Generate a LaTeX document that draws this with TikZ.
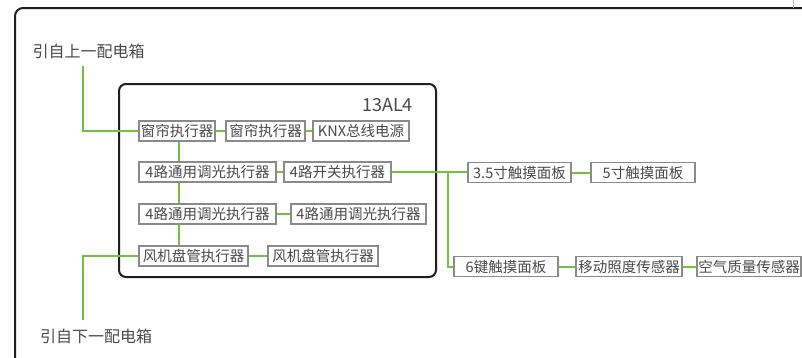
\documentclass[tikz,border=0pt]{standalone}
\usepackage{fontspec}
\setmainfont{Noto Sans CJK SC}
\definecolor{wire}{HTML}{72C23C}
\definecolor{boxline}{HTML}{8A8A8A}
\definecolor{txt}{HTML}{4A4A4A}
\tikzset{
  dev/.style={draw=boxline, line width=1.3pt, fill=white, text=txt,
    minimum height=20pt, inner sep=0pt, font=\fontsize{14.5}{14.5}\selectfont},
  wireline/.style={draw=wire, line width=2pt},
  frame/.style={draw=black!88, line width=2pt, rounded corners=8pt},
  lbl/.style={text=txt, font=\fontsize{16}{16}\selectfont, inner sep=0pt}
}
\begin{document}
\begin{tikzpicture}[x=1pt,y=-1pt]
\useasboundingbox (0,0) rectangle (802,357);
\clip (0,0) rectangle (802,357);
\fill[white] (0,0) rectangle (802,357);
% outer frame
\draw[frame] (15,380) -- (15,8) -- (830,8);
\draw[boxline!60, line width=1pt] (793,0) -- (793,8);
% inner cabinet
\draw[frame, rounded corners=7pt] (119,84) rectangle (436,277);
\node[text=txt, font=\fontsize{18}{18}\selectfont, anchor=east, inner sep=0pt] (cab) at (413,105) {13AL4};
% labels
\node[lbl] (up) at (88.5,51) {引自上一配电箱};
\node[lbl] (down) at (96,336) {引自下一配电箱};
\coordinate (upend) at (83,66);
\coordinate (downend) at (83,320);
\coordinate (j) at (448,172);
% boxes
\node[dev, minimum width=76pt] (a1) at (177,131) {窗帘执行器};
\node[dev, minimum width=79pt] (a2) at (265.5,131) {窗帘执行器};
\node[dev, minimum width=96pt] (a3) at (361,131) {KNX总线电源};
\node[dev, minimum width=137pt] (b1) at (207.5,172) {4路通用调光执行器};
\node[dev, minimum width=107pt] (b2) at (337.5,172) {4路开关执行器};
\node[dev, minimum width=137pt] (c1) at (207.5,214) {4路通用调光执行器};
\node[dev, minimum width=135pt] (c2) at (358.5,214) {4路通用调光执行器};
\node[dev, minimum width=109pt] (d1) at (193.5,256) {风机盘管执行器};
\node[dev, minimum width=110pt] (d2) at (323,256) {风机盘管执行器};
\node[dev, minimum width=103pt] (e1) at (519.5,172.5) {3.5寸触摸面板};
\node[dev, minimum width=104pt] (e2) at (643,172.5) {5寸触摸面板};
\node[dev, minimum width=104pt] (f1) at (506,266.5) {6键触摸面板};
\node[dev, minimum width=106pt] (f2) at (629,266.5) {移动照度传感器};
\node[dev, minimum width=104pt] (f3) at (749,266.5) {空气质量传感器};
% wires
\draw[wireline] (upend) |- (a1.west);
\draw[wireline] (d1.west) -| (downend);
\draw[wireline] (a1.east) -- (a2.west);
\draw[wireline] (a2.east) -- (a3.west);
\draw[wireline] ([xshift=2pt]a1.south) -- ([xshift=2pt]a1.south |- b1.north);
\draw[wireline] ([xshift=2pt]a1.south |- b1.south) -- ([xshift=2pt]a1.south |- c1.north);
\draw[wireline] ([xshift=2pt]a1.south |- c1.south) -- ([xshift=2pt]a1.south |- d1.north);
\draw[wireline] (b1.east) -- (b2.west);
\draw[wireline] (c1.east) -- (c2.west);
\draw[wireline] (d1.east) -- (d2.west);
\draw[wireline] (b2.east) -- (b2.east -| e1.west);
\draw[wireline] (j) |- (f1.west);
\draw[wireline] (e1.east) -- (e2.west);
\draw[wireline] (f1.east) -- (f2.west);
\draw[wireline] (f2.east) -- (f3.west);
\end{tikzpicture}
\end{document}
